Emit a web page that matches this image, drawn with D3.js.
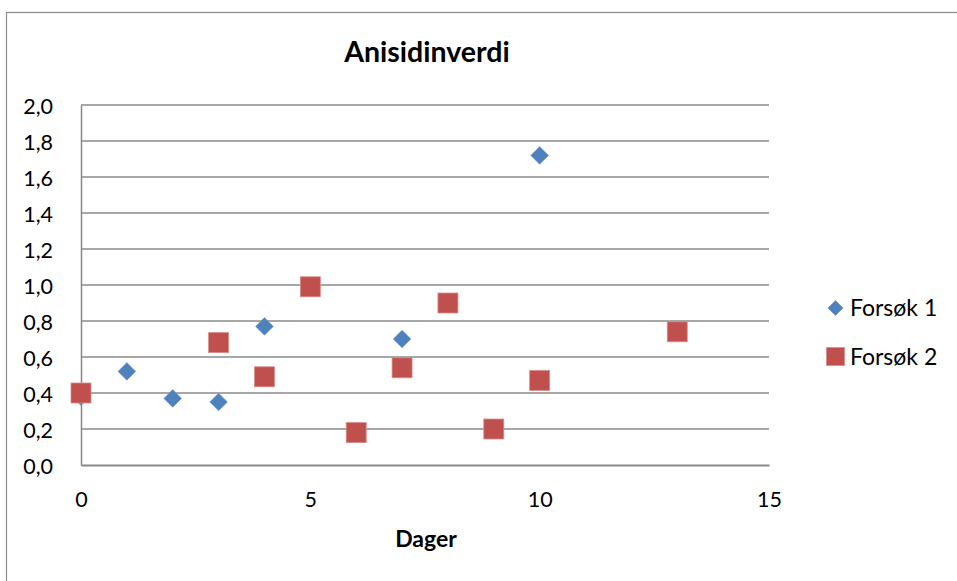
<!DOCTYPE html>
<html><head><meta charset="utf-8">
<script src="https://cdn.jsdelivr.net/npm/d3@7"></script>
<style>body{margin:0;background:#fff}svg{display:block}</style>
</head><body>
<script>
const xTicks = [0, 5, 10, 15];
const yTicks = [0, 0.2, 0.4, 0.6, 0.8, 1.0, 1.2, 1.4, 1.6, 1.8, 2.0];
const days1 = [0, 1, 2, 3, 4, 7, 10];
const vals1 = [0.38, 0.52, 0.37, 0.35, 0.77, 0.70, 1.72];
const days2 = [0, 3, 4, 5, 6, 7, 8, 9, 10, 13];
const vals2 = [0.40, 0.68, 0.49, 0.99, 0.18, 0.54, 0.90, 0.20, 0.47, 0.74];
const seriesNames = ["Forsøk 1", "Forsøk 2"];
const title = "Anisidinverdi";
const xTitle = "Dager";

const W = 957, H = 581;
const font = "Lato, 'Open Sans', sans-serif";
const svg = d3.select("body").append("svg").attr("width", W).attr("height", H);

svg.append("rect").attr("x", 6.5).attr("y", 12.5).attr("width", W + 10).attr("height", H + 10)
  .attr("fill", "#fff").attr("stroke", "#8c8c8c").attr("stroke-width", 1.2);

const x = d3.scaleLinear().domain([0, 15]).range([81, 769]);
const y = d3.scaleLinear().domain([0, 2]).range([465, 105]);

// gridlines
svg.append("g").selectAll("line").data(yTicks.filter(d => d > 0)).join("line")
  .attr("x1", x(0)).attr("x2", x(15)).attr("y1", d => y(d)).attr("y2", d => y(d))
  .attr("stroke", "#8a8a8a").attr("stroke-width", 1.3);

// y axis
const yAxis = d3.axisLeft(y).tickValues(yTicks).tickSize(0).tickPadding(28)
  .tickFormat(d => d3.format(".1f")(d).replace(".", ","));
const gy = svg.append("g").attr("transform", `translate(${x(0)},0)`).call(yAxis);
gy.select(".domain").attr("stroke", "#878787").attr("stroke-width", 1.5);
gy.selectAll("text").attr("font-family", font).attr("font-size", 21.5).attr("fill", "#000")
  .attr("dy", "0.38em");

// x axis
const xAxis = d3.axisBottom(x).tickValues(xTicks).tickSize(0).tickPadding(0);
const gx = svg.append("g").attr("transform", `translate(0,${y(0)})`).call(xAxis);
gx.select(".domain").attr("stroke", "#878787").attr("stroke-width", 1.8);
gx.selectAll("text").attr("font-family", font).attr("font-size", 21.5).attr("fill", "#000")
  .attr("y", 42).attr("dy", 0);

// titles
svg.append("text").attr("x", 427).attr("y", 61.5).attr("text-anchor", "middle")
  .attr("font-family", font).attr("font-weight", "bold").attr("font-size", 28.5).text(title);
svg.append("text").attr("x", 426).attr("y", 546.5).attr("text-anchor", "middle")
  .attr("font-family", font).attr("font-weight", "bold").attr("font-size", 23).text(xTitle);

const blue = "#4F81BD", red = "#C0504D";
const diamond = d3.symbol().type(d3.symbolDiamond2).size(200);
const diamondLg = d3.symbol().type(d3.symbolDiamond2).size(156);

// series 1 diamonds
svg.append("g").selectAll("path").data(days1.map((d, i) => [d, vals1[i]])).join("path")
  .attr("d", diamond)
  .attr("transform", d => `translate(${x(d[0])},${y(d[1])})`)
  .attr("fill", blue).attr("stroke", "#6f97c9").attr("stroke-width", 0.6);

// series 2 squares
const s = 20;
svg.append("g").selectAll("rect").data(days2.map((d, i) => [d, vals2[i]])).join("rect")
  .attr("x", d => x(d[0]) - s / 2).attr("y", d => y(d[1]) - s / 2)
  .attr("width", s).attr("height", s)
  .attr("fill", red).attr("stroke", "#d98d8b").attr("stroke-width", 0.8);

// legend
const lg = svg.append("g");
lg.append("path").attr("d", diamondLg).attr("transform", "translate(835.5,308)").attr("fill", blue);
lg.append("text").attr("x", 850).attr("y", 315.5).attr("font-family", font).attr("font-size", 23).text(seriesNames[0]);
lg.append("rect").attr("x", 826.5).attr("y", 347.5).attr("width", 18).attr("height", 18).attr("fill", red)
  .attr("stroke", "#d98d8b").attr("stroke-width", 0.8);
lg.append("text").attr("x", 850).attr("y", 364.5).attr("font-family", font).attr("font-size", 23).text(seriesNames[1]);
</script>
</body></html>
